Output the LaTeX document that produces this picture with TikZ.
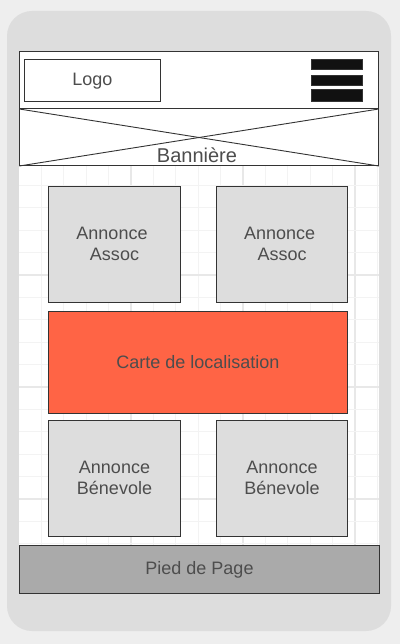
\documentclass[tikz,border=0pt]{standalone}
\usepackage{fontspec}
\setmainfont{Liberation Sans}
\definecolor{pagebg}{HTML}{EEEEEE}
\definecolor{phone}{HTML}{DDDDDD}
\definecolor{strk}{HTML}{333333}
\definecolor{boxgray}{HTML}{DDDDDD}
\definecolor{txt}{HTML}{4D4D4D}
\definecolor{carte}{HTML}{FF6445}
\definecolor{footer}{HTML}{AAAAAA}
\definecolor{bar}{HTML}{111111}
\definecolor{gridminor}{HTML}{F3F3F3}
\definecolor{gridmajor}{HTML}{E8E8E8}
\newcommand{\mainfs}{\fontsize{18}{21}\selectfont}
\begin{document}
\begin{tikzpicture}[x=1pt,y=-1pt,
  box/.style={draw=strk, line width=1pt, inner sep=0pt, outer sep=0pt, anchor=north west, text=txt, font=\mainfs, align=center},
  barbox/.style={draw=strk, line width=1pt, fill=bar}]
\useasboundingbox (0,0) rectangle (400,644);
\fill[pagebg] (0,0) rectangle (400,644);
% phone body
\fill[phone, rounded corners=25pt] (7,11) rectangle (391,631);
% screen
\fill[white] (19,51) rectangle (379,546);
% grid
\foreach \k in {1,...,16} {
  \pgfmathtruncatemacro{\m}{mod(\k,5)}
  \ifnum\m=0
    \draw[gridmajor, line width=1.2pt] ({19+22.4*\k},51) -- ({19+22.4*\k},546);
  \else
    \draw[gridminor, line width=1.2pt] ({19+22.4*\k},51) -- ({19+22.4*\k},546);
  \fi
}
\foreach \k in {1,...,22} {
  \pgfmathtruncatemacro{\m}{mod(\k,5)}
  \ifnum\m=0
    \draw[gridmajor, line width=1.2pt] (19,{51+22.4*\k}) -- (379,{51+22.4*\k});
  \else
    \draw[gridminor, line width=1.2pt] (19,{51+22.4*\k}) -- (379,{51+22.4*\k});
  \fi
}
% header
\node[box, fill=white, minimum width=359.5pt, minimum height=57.5pt] (hdr) at (19.3,51.5) {};
\node[box, fill=white, minimum width=136pt, minimum height=42pt, text depth=2pt] (logo) at (24.3,59.3) {Logo};
\draw[barbox] (311.3,59.3) rectangle (362,69.7) node[coordinate] (bar1) {};
\draw[barbox] (311.3,75.3) rectangle (362,85.7) node[coordinate] (bar2) {};
\draw[barbox] (311.3,89.3) rectangle (362,101.3) node[coordinate] (bar3) {};
% banner
\node[box, fill=white, minimum width=359.5pt, minimum height=57pt] (ban) at (19.3,109) {};
\draw[strk, line width=0.9pt] (ban.north west) -- (ban.south east);
\draw[strk, line width=0.9pt] (ban.south west) -- (ban.north east);
\node[anchor=base, text=txt, font=\fontsize{20}{24}\selectfont, inner sep=0pt] (bantxt) at (197,163) {Bannière};
% content boxes
\node[box, fill=boxgray, minimum width=132.4pt, minimum height=116pt] (assoc1) at (48.3,186.3) {Annonce\kern5pt\\Assoc};
\node[box, fill=boxgray, minimum width=131pt, minimum height=116pt] (assoc2) at (216.7,186.3) {Annonce\kern5pt\\Assoc};
\node[box, fill=carte, minimum width=299.4pt, minimum height=101.6pt] (carte) at (48.3,311.7) {Carte de localisation};
\node[box, fill=boxgray, minimum width=132.4pt, minimum height=116pt] (ben1) at (48.3,420.3) {Annonce\\Bénevole};
\node[box, fill=boxgray, minimum width=131.4pt, minimum height=116pt] (ben2) at (216.3,420.3) {Annonce\\Bénevole};
% footer
\node[box, fill=footer, minimum width=360.4pt, minimum height=47.6pt] (foot) at (19.3,545.7) {Pied de Page};
\end{tikzpicture}
\end{document}
